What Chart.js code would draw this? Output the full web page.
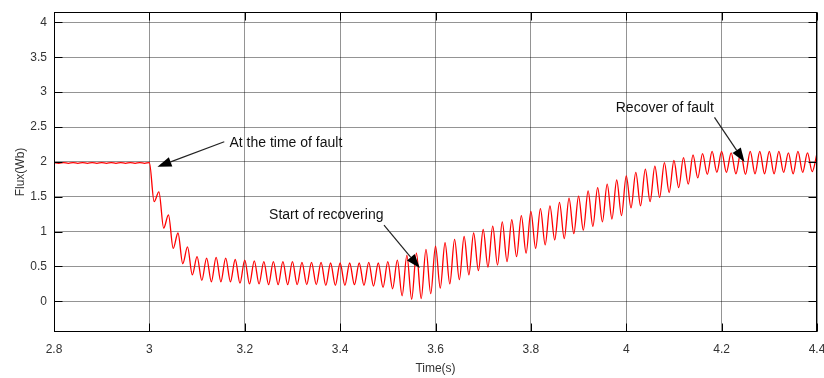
<!DOCTYPE html>
<html>
<head>
<meta charset="utf-8">
<script src="https://cdn.jsdelivr.net/npm/chart.js@4/dist/chart.umd.min.js"></script>
<style>
html,body{margin:0;padding:0;background:#fff;}
canvas{display:block;}
</style>
</head>
<body>
<canvas id="c" width="824" height="378"></canvas>
<script>
// ---- data ----
const timeS = [
 2.80,2.81,2.82,2.83,2.84,2.85,2.86,2.87,2.88,2.89,
 2.90,2.91,2.92,2.93,2.94,2.95,2.96,2.97,2.98,2.99,
 3.00,3.01,3.02,3.03,3.04,3.05,3.06,3.07,3.08,3.09,
 3.10,3.11,3.12,3.13,3.14,3.15,3.16,3.17,3.18,3.19,
 3.20,3.21,3.22,3.23,3.24,3.25,3.26,3.27,3.28,3.29,
 3.30,3.31,3.32,3.33,3.34,3.35,3.36,3.37,3.38,3.39,
 3.40,3.41,3.42,3.43,3.44,3.45,3.46,3.47,3.48,3.49,
 3.50,3.51,3.52,3.53,3.54,3.55,3.56,3.57,3.58,3.59,
 3.60,3.61,3.62,3.63,3.64,3.65,3.66,3.67,3.68,3.69,
 3.70,3.71,3.72,3.73,3.74,3.75,3.76,3.77,3.78,3.79,
 3.80,3.81,3.82,3.83,3.84,3.85,3.86,3.87,3.88,3.89,
 3.90,3.91,3.92,3.93,3.94,3.95,3.96,3.97,3.98,3.99,
 4.00,4.01,4.02,4.03,4.04,4.05,4.06,4.07,4.08,4.09,
 4.10,4.11,4.12,4.13,4.14,4.15,4.16,4.17,4.18,4.19,
 4.20,4.21,4.22,4.23,4.24,4.25,4.26,4.27,4.28,4.29,
 4.30,4.31,4.32,4.33,4.34,4.35,4.36,4.37,4.38,4.39,
 4.40
];
const fluxWb = [
 1.99,1.98,1.99,1.98,1.99,1.98,1.99,1.98,1.99,1.98,
 1.99,1.98,1.99,1.98,1.99,1.98,1.99,1.98,1.99,1.98,
 1.99,1.43,1.57,1.05,1.24,0.76,0.98,0.54,0.78,0.38,
 0.64,0.30,0.62,0.28,0.63,0.28,0.62,0.28,0.60,0.26,
 0.59,0.25,0.58,0.25,0.57,0.24,0.57,0.24,0.57,0.24,
 0.57,0.24,0.56,0.24,0.56,0.24,0.56,0.23,0.55,0.23,
 0.55,0.23,0.55,0.24,0.55,0.23,0.56,0.22,0.55,0.20,
 0.57,0.18,0.59,0.08,0.66,0.03,0.69,0.04,0.745,0.11,
 0.79,0.19,0.84,0.25,0.89,0.31,0.93,0.38,0.98,0.44,
 1.03,0.49,1.08,0.52,1.14,0.57,1.17,0.64,1.23,0.69,
 1.29,0.76,1.33,0.81,1.37,0.88,1.42,0.90,1.48,0.97,
 1.51,1.02,1.585,1.075,1.63,1.14,1.68,1.18,1.74,1.23,
 1.80,1.34,1.85,1.37,1.895,1.43,1.94,1.49,1.99,1.56,
 2.02,1.63,2.06,1.68,2.10,1.77,2.12,1.82,2.15,1.85,
 2.15,1.85,2.13,1.83,2.13,1.82,2.15,1.83,2.15,1.83,
 2.15,1.83,2.15,1.85,2.13,1.83,2.15,1.85,2.13,1.86,
 2.12
];
const xTickValues = [2.8, 3.0, 3.2, 3.4, 3.6, 3.8, 4.0, 4.2, 4.4];
const yTickValues = [0, 0.5, 1, 1.5, 2, 2.5, 3, 3.5, 4];
const xRange = [2.8, 4.4];
const yRange = [-0.44, 4.15];

// annotations (data coordinates)
const annotTexts = ['At the time of fault', 'Start of recovering', 'Recover of fault'];
const annotTextAt = [[3.168, 2.265], [3.251, 1.237], [3.978, 2.767]];
const annotTail  = [[3.157, 2.288], [3.492, 1.094], [4.185, 2.638]];
const annotTip   = [[3.017, 1.93], [3.567, 0.477], [4.248, 2.0]];

// ---- styling ----
const FONT = "'Liberation Sans', Arial, Helvetica, sans-serif";
const labelColor = '#333333';
const gridColor = 'rgba(0,0,0,0.42)';
const fmt = v => String(+(+v).toFixed(2));

const points = timeS.map((t, i) => ({x: t, y: fluxWb[i]}));

const matlabAxes = {
  id: 'matlabAxes',
  afterDraw(chart) {
    const {ctx, chartArea: a, scales: {x, y}} = chart;
    const L = Math.round(a.left) + 0.5, R = Math.round(a.right) - 0.5;
    const T = Math.round(a.top) + 0.5, B = Math.round(a.bottom) - 0.5;
    const tl = 8;
    ctx.save();
    ctx.strokeStyle = '#000';
    ctx.lineWidth = 1;
    ctx.beginPath();
    xTickValues.forEach(v => {
      const px = Math.round(x.getPixelForValue(v)) + 0.5;
      ctx.moveTo(px, B); ctx.lineTo(px, B - tl);
      ctx.moveTo(px, T); ctx.lineTo(px, T + tl);
    });
    yTickValues.forEach(v => {
      const py = Math.round(y.getPixelForValue(v)) + 0.5;
      ctx.moveTo(L, py); ctx.lineTo(L + tl, py);
      ctx.moveTo(R, py); ctx.lineTo(R - tl, py);
    });
    ctx.stroke();
    ctx.strokeRect(L, T, R - L, B - T);

    // annotations
    ctx.font = '14px ' + FONT;
    ctx.textBaseline = 'middle';
    ctx.textAlign = 'left';
    ctx.fillStyle = '#111';
    annotTexts.forEach((txt, i) => {
      ctx.fillText(txt, x.getPixelForValue(annotTextAt[i][0]), y.getPixelForValue(annotTextAt[i][1]));
      const x0 = x.getPixelForValue(annotTail[i][0]), y0 = y.getPixelForValue(annotTail[i][1]);
      const x1 = x.getPixelForValue(annotTip[i][0]), y1 = y.getPixelForValue(annotTip[i][1]);
      const ang = Math.atan2(y1 - y0, x1 - x0);
      const hl = 14, hw = 5;
      const bx = x1 - hl * Math.cos(ang), by = y1 - hl * Math.sin(ang);
      ctx.strokeStyle = '#222';
      ctx.lineWidth = 1.2;
      ctx.beginPath();
      ctx.moveTo(x0, y0); ctx.lineTo(bx, by);
      ctx.stroke();
      ctx.fillStyle = '#000';
      ctx.beginPath();
      ctx.moveTo(x1, y1);
      ctx.lineTo(bx + hw * Math.sin(ang), by - hw * Math.cos(ang));
      ctx.lineTo(bx - hw * Math.sin(ang), by + hw * Math.cos(ang));
      ctx.closePath();
      ctx.fill();
      ctx.fillStyle = '#111';
    });
    ctx.restore();
  }
};

new Chart(document.getElementById('c'), {
  type: 'line',
  data: {
    datasets: [{
      data: points,
      borderColor: '#ff0000',
      borderWidth: 1.3,
      pointRadius: 0,
      fill: false,
      cubicInterpolationMode: 'monotone'
    }]
  },
  options: {
    responsive: false,
    animation: false,
    devicePixelRatio: 1,
    layout: {padding: {left: 0, right: 7, top: 12, bottom: 0}},
    plugins: {legend: {display: false}, tooltip: {enabled: false}},
    scales: {
      x: {
        type: 'linear',
        min: xRange[0], max: xRange[1],
        afterBuildTicks: s => { s.ticks = xTickValues.map(v => ({value: v})); },
        afterFit: s => { s.height = 46; s.paddingLeft = 0; s.paddingRight = 0; },
        ticks: {padding: 10, color: labelColor, font: {family: FONT, size: 12}, maxRotation: 0, autoSkip: false, callback: v => fmt(v)},
        grid: {color: gridColor, lineWidth: 1, drawTicks: false},
        border: {display: false},
        title: {display: true, text: 'Time(s)', color: labelColor, font: {family: FONT, size: 12}, padding: {top: 0, bottom: 2}}
      },
      y: {
        type: 'linear',
        min: yRange[0], max: yRange[1],
        afterBuildTicks: s => { s.ticks = yTickValues.map(v => ({value: v})); },
        afterFit: s => { s.width = 54; s.paddingTop = 0; s.paddingBottom = 0; },
        ticks: {padding: 7, color: labelColor, font: {family: FONT, size: 12}, autoSkip: false, callback: v => fmt(v)},
        grid: {color: gridColor, lineWidth: 1, drawTicks: false},
        border: {display: false},
        title: {display: true, text: 'Flux(Wb)', color: labelColor, font: {family: FONT, size: 12}, padding: {top: 13, bottom: 0}}
      }
    }
  },
  plugins: [matlabAxes]
});
</script>
</body>
</html>
